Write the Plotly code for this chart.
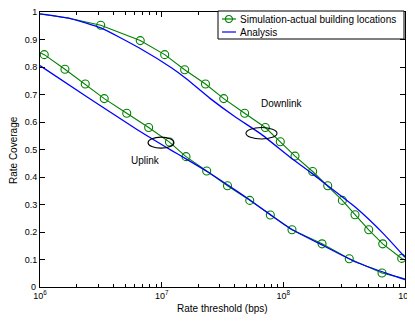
import plotly.graph_objects as go

# ---- data ----
# Simulation (green) markers
ul_sim_x = [1.084e6, 1.603e6, 2.355e6, 3.373e6, 5.164e6, 7.816e6, 1.159e7, 1.585e7,
            2.344e7, 3.475e7, 5.297e7, 7.816e7, 1.178e8, 2.080e8, 3.483e8, 6.471e8]
ul_sim_y = [0.845, 0.792, 0.738, 0.685, 0.632, 0.580, 0.527, 0.474,
            0.422, 0.368, 0.315, 0.262, 0.208, 0.157, 0.103, 0.051]
dl_sim_x = [3.155e6, 6.668e6, 1.059e7, 1.545e7, 2.291e7, 3.236e7, 4.808e7, 7.112e7, 9.441e7,
            1.247e8, 1.742e8, 2.317e8, 3.055e8, 3.882e8, 5.035e8, 6.561e8, 9.397e8]
dl_sim_y = [0.952, 0.896, 0.845, 0.790, 0.738, 0.685, 0.632, 0.580, 0.528,
            0.476, 0.420, 0.368, 0.315, 0.263, 0.208, 0.157, 0.104]
# Simulation line end points (line runs across the whole axis)
ul_sim_start = (1e6, 0.852)
ul_sim_end = (1e9, 0.030)
dl_sim_head_x = [1e6, 1.698e6]
dl_sim_head_y = [0.993, 0.978]
dl_sim_end = (1e9, 0.099)

# Analysis (blue)
ul_ana_x = [1e6, 2.512e6, 6.31e6, 1.202e7, 1.585e7, 2.344e7, 3.467e7, 5.248e7,
            7.762e7, 1.148e8, 2.138e8, 3.981e8, 7.586e8, 1e9]
ul_ana_y = [0.805, 0.687, 0.572, 0.497, 0.466, 0.421, 0.372, 0.318,
            0.264, 0.212, 0.150, 0.090, 0.045, 0.027]
dl_ana_x = [1e6, 1.778e6, 3.162e6, 6.607e6, 1.202e7, 1.585e7, 2.512e7, 3.981e7,
            6.607e7, 1.122e8, 1.698e8, 2.138e8, 3.981e8, 6.607e8, 1e9]
dl_ana_y = [0.993, 0.976, 0.942, 0.868, 0.797, 0.758, 0.685, 0.620,
            0.555, 0.474, 0.415, 0.380, 0.287, 0.195, 0.108]

x_tickvals = [1e6, 1e7, 1e8, 1e9]
x_ticktext = ["10<sup>6</sup>", "10<sup>7</sup>", "10<sup>8</sup>", "10<sup>9</sup>"]
y_tickvals = [0.1, 0.2, 0.3, 0.4, 0.5, 0.6, 0.7, 0.8, 0.9, 1]
y_ticktext = ["0.1", "0.2", "0.3", "0.4", "0.5", "0.6", "0.7", "0.8", "0.9", "1"]
y_zero_label = "0"
minor_vals = [m * 10 ** e for e in (6, 7, 8) for m in range(2, 10)]

sim_name = "Simulation-actual building locations"
ana_name = "Analysis"
x_title = "Rate threshold (bps)"
y_title = "Rate Coverage"

GREEN = "#008000"
BLUE = "#0000ff"
FONT = "Liberation Sans, Arial, sans-serif"

# The page body has an 8px default margin, so the figure is sized to fit the window.
OFF = 8
W, H = 415 - OFF, 321 - OFF
ML, MR, MT, MB = 40 - OFF, 10, 12 - OFF, 34
PW, PH = W - ML - MR, H - MT - MB


def px2paper(px, py):
    # px, py: screen pixel positions in the 415x321 window
    return (px - OFF - ML) / PW, (H - MB - (py - OFF)) / PH


fig = go.Figure()

# green simulation lines
fig.add_trace(go.Scatter(
    x=[ul_sim_start[0]] + ul_sim_x + [ul_sim_end[0]],
    y=[ul_sim_start[1]] + ul_sim_y + [ul_sim_end[1]],
    mode="lines", line=dict(color=GREEN, width=1.1), showlegend=False, hoverinfo="skip"))
fig.add_trace(go.Scatter(
    x=dl_sim_head_x + dl_sim_x + [dl_sim_end[0]],
    y=dl_sim_head_y + dl_sim_y + [dl_sim_end[1]],
    mode="lines", line=dict(color=GREEN, width=1.1), showlegend=False, hoverinfo="skip"))
# green markers
for xs, ys in ((ul_sim_x, ul_sim_y), (dl_sim_x, dl_sim_y)):
    fig.add_trace(go.Scatter(
        x=xs, y=ys, mode="markers",
        marker=dict(symbol="circle-open", size=8, color=GREEN, line=dict(width=1.1, color=GREEN)),
        showlegend=False))
# blue analysis lines
fig.add_trace(go.Scatter(x=ul_ana_x, y=ul_ana_y, mode="lines",
                         line=dict(color=BLUE, width=1.3, shape="spline", smoothing=0.5),
                         showlegend=False))
fig.add_trace(go.Scatter(x=dl_ana_x, y=dl_ana_y, mode="lines",
                         line=dict(color=BLUE, width=1.3, shape="spline", smoothing=0.5),
                         showlegend=False))

# ellipses
fig.add_shape(type="circle", xref="x", yref="y", x0=7.727e6, x1=1.262e7, y0=0.505, y1=0.545,
              line=dict(color="black", width=1.1))
fig.add_shape(type="circle", xref="x", yref="y", x0=4.932e7, x1=8.872e7, y0=0.538, y1=0.580,
              line=dict(color="black", width=1.1))

fig.add_annotation(x=6.863, y=0.461, text="Uplink", showarrow=False,
                   font=dict(size=10, color="black", family=FONT))
fig.add_annotation(x=7.989, y=0.668, text="Downlink", showarrow=False,
                   font=dict(size=10, color="black", family=FONT))

# y "0" tick label at the corner (drawn as text so it is not dropped)
fig.add_annotation(xref="paper", yref="y", x=0, y=0, text=y_zero_label, showarrow=False,
                   xanchor="right", yanchor="middle", xshift=-2,
                   font=dict(size=9, color="black", family=FONT))

# axis titles
tx_, ty_ = px2paper(222.5, 308)
fig.add_annotation(xref="paper", yref="paper", x=tx_, y=ty_, text=x_title, showarrow=False,
                   xanchor="center", yanchor="middle", font=dict(size=10, color="black", family=FONT))
tx_, ty_ = px2paper(13, 150)
fig.add_annotation(xref="paper", yref="paper", x=tx_, y=ty_, text=y_title, showarrow=False,
                   textangle=-90, xanchor="center", yanchor="middle",
                   font=dict(size=10, color="black", family=FONT))

# ---- legend box (drawn in paper coordinates, MATLAB style) ----
bx0, by0 = px2paper(218, 39)
bx1, by1 = px2paper(404, 11)
fig.add_shape(type="rect", xref="paper", yref="paper", x0=bx0, y0=by0, x1=bx1, y1=by1,
              line=dict(color="black", width=1), fillcolor="white", layer="above")
rows = [(sim_name, GREEN, True, 19), (ana_name, BLUE, False, 32)]
for name, col, has_marker, py in rows:
    lx0, ly = px2paper(222, py)
    lx1, _ = px2paper(236, py)
    fig.add_shape(type="line", xref="paper", yref="paper", x0=lx0, x1=lx1, y0=ly, y1=ly,
                  line=dict(color=col, width=1.2), layer="above")
    if has_marker:
        cx, cy = px2paper(229, py)
        rx, ry = 3.5 / PW, 3.5 / PH
        fig.add_shape(type="circle", xref="paper", yref="paper",
                      x0=cx - rx, x1=cx + rx, y0=cy - ry, y1=cy + ry,
                      line=dict(color=col, width=1.1), layer="above")
    tx, ty = px2paper(237.5, py)
    fig.add_annotation(xref="paper", yref="paper", x=tx, y=ty, text=name, showarrow=False,
                       xanchor="left", yanchor="middle",
                       font=dict(size=10, color="black", family=FONT))

fig.update_layout(
    width=W, height=H,
    margin=dict(l=ML, r=MR, t=MT, b=MB, autoexpand=False),
    plot_bgcolor="white", paper_bgcolor="white",
    font=dict(family=FONT, size=10, color="black"),
    showlegend=False,
)
fig.update_xaxes(
    type="log", range=[6, 9], tickvals=x_tickvals, ticktext=x_ticktext,
    showgrid=False, zeroline=False, showline=True, linecolor="black", linewidth=1,
    mirror="ticks", ticks="inside", ticklen=5, tickcolor="black", automargin=False,
    ticklabeloverflow="allow",
    minor=dict(tickvals=minor_vals, ticks="inside", ticklen=3, tickcolor="black", showgrid=False),
    tickfont=dict(size=9),
)
fig.update_yaxes(
    range=[0, 1], tickvals=y_tickvals, ticktext=y_ticktext,
    showgrid=False, zeroline=False, showline=True, linecolor="black", linewidth=1,
    mirror="ticks", ticks="inside", ticklen=5, tickcolor="black", automargin=False,
    ticklabeloverflow="allow",
    tickfont=dict(size=9),
)

fig.write_html("out.html")
